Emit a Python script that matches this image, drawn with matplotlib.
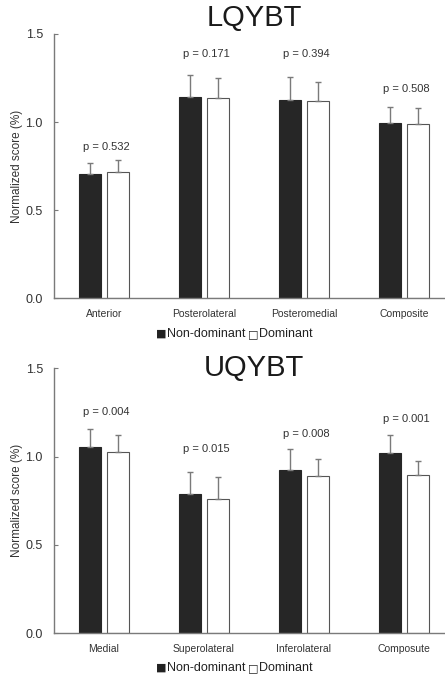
#!/usr/bin/env python3
"""LQYBT / UQYBT normalized score bar charts"""

import matplotlib.pyplot as plt
import numpy as np

plt.rcParams["font.family"] = ["Liberation Sans", "DejaVu Sans"]

lq_labels = ["Anterior", "Posterolateral", "Posteromedial", "Composite"]
lq_nondom = [0.708, 1.144, 1.124, 0.993]
lq_nondom_sd = [0.058, 0.122, 0.130, 0.093]
lq_dom = [0.715, 1.137, 1.118, 0.988]
lq_dom_sd = [0.068, 0.113, 0.111, 0.090]
lq_p = ["p = 0.532", "p = 0.171", "p = 0.394", "p = 0.508"]
lq_p_y = [0.86, 1.385, 1.385, 1.186]

uq_labels = ["Medial", "Superolateral", "Inferolateral", "Composute"]
uq_nondom = [1.054, 0.788, 0.924, 1.022]
uq_nondom_sd = [0.104, 0.127, 0.117, 0.099]
uq_dom = [1.024, 0.762, 0.890, 0.894]
uq_dom_sd = [0.098, 0.123, 0.097, 0.081]
uq_p = ["p = 0.004", "p = 0.015", "p = 0.008", "p = 0.001"]
uq_p_y = [1.252, 1.045, 1.126, 1.215]

EDGE = "#7a7a7a"
DARK = "#262626"
TXT = "#333333"


def plot(ax, labels, nondom, nondom_sd, dom, dom_sd, pvals, p_y):
    x = np.arange(len(labels))
    w = 0.22
    off = 0.143
    err_kw = dict(ecolor=EDGE, elinewidth=1.0, capsize=2.5, capthick=1.0)
    ax.bar(x - off, nondom, w, color=DARK, edgecolor=DARK, linewidth=0.8,
           yerr=[np.zeros(len(x)), nondom_sd], error_kw=err_kw)
    ax.bar(x + off, dom, w, color="white", edgecolor="#555555", linewidth=0.8,
           yerr=[np.zeros(len(x)), dom_sd], error_kw=err_kw)

    for xi, txt, yy in zip(x, pvals, p_y):
        ax.text(xi + 0.02, yy, txt, ha="center", va="center", fontsize=8, color=TXT)

    ax.set_xlim(-0.5, 3.41)
    ax.set_ylim(0, 1.5)
    ax.set_yticks([0, 0.5, 1.0, 1.5])
    ax.set_yticklabels(["0.0", "0.5", "1.0", "1.5"], fontsize=9, color=TXT)
    ax.set_xticks(x)
    ax.set_xticklabels(labels, fontsize=7.5, color=TXT)
    ax.tick_params(axis="x", length=0, pad=8)
    ax.tick_params(axis="y", direction="in", length=3, color=EDGE, pad=8)
    ax.set_ylabel("Normalized score (%)", fontsize=8.5, color=TXT, labelpad=2)
    for s in ("top", "right"):
        ax.spines[s].set_visible(False)
    for s in ("left", "bottom"):
        ax.spines[s].set_color(EDGE)
        ax.spines[s].set_linewidth(1.0)


def legend(fig, y):
    kw = dict(ha="left", va="baseline", color="#222222")
    fig.text(156 / 445, y, "\u25a0", fontsize=8, family="DejaVu Sans", **kw)
    fig.text(167 / 445, y, "Non-dominant", fontsize=9, **kw)
    fig.text(248 / 445, y, "\u25a1", fontsize=8, family="DejaVu Sans", **kw)
    fig.text(259 / 445, y, "Dominant", fontsize=9, **kw)


def main():
    fig = plt.figure(figsize=(4.45, 6.77), dpi=100)
    ax1 = fig.add_axes([0.1213, 0.5594, 0.8787, 0.3904])
    ax2 = fig.add_axes([0.1213, 0.0645, 0.8787, 0.3915])

    plot(ax1, lq_labels, lq_nondom, lq_nondom_sd, lq_dom, lq_dom_sd, lq_p, lq_p_y)
    plot(ax2, uq_labels, uq_nondom, uq_nondom_sd, uq_dom, uq_dom_sd, uq_p, uq_p_y)

    fig.text(254 / 445, 1 - 18 / 677, "LQYBT", ha="center", va="center", fontsize=21, color="#1a1a1a")
    fig.text(254 / 445, 1 - 368 / 677, "UQYBT", ha="center", va="center", fontsize=21, color="#1a1a1a")

    legend(fig, 1 - 337 / 677)
    legend(fig, 1 - 671 / 677)

    fig.savefig("out.png", dpi=100)


if __name__ == "__main__":
    main()
